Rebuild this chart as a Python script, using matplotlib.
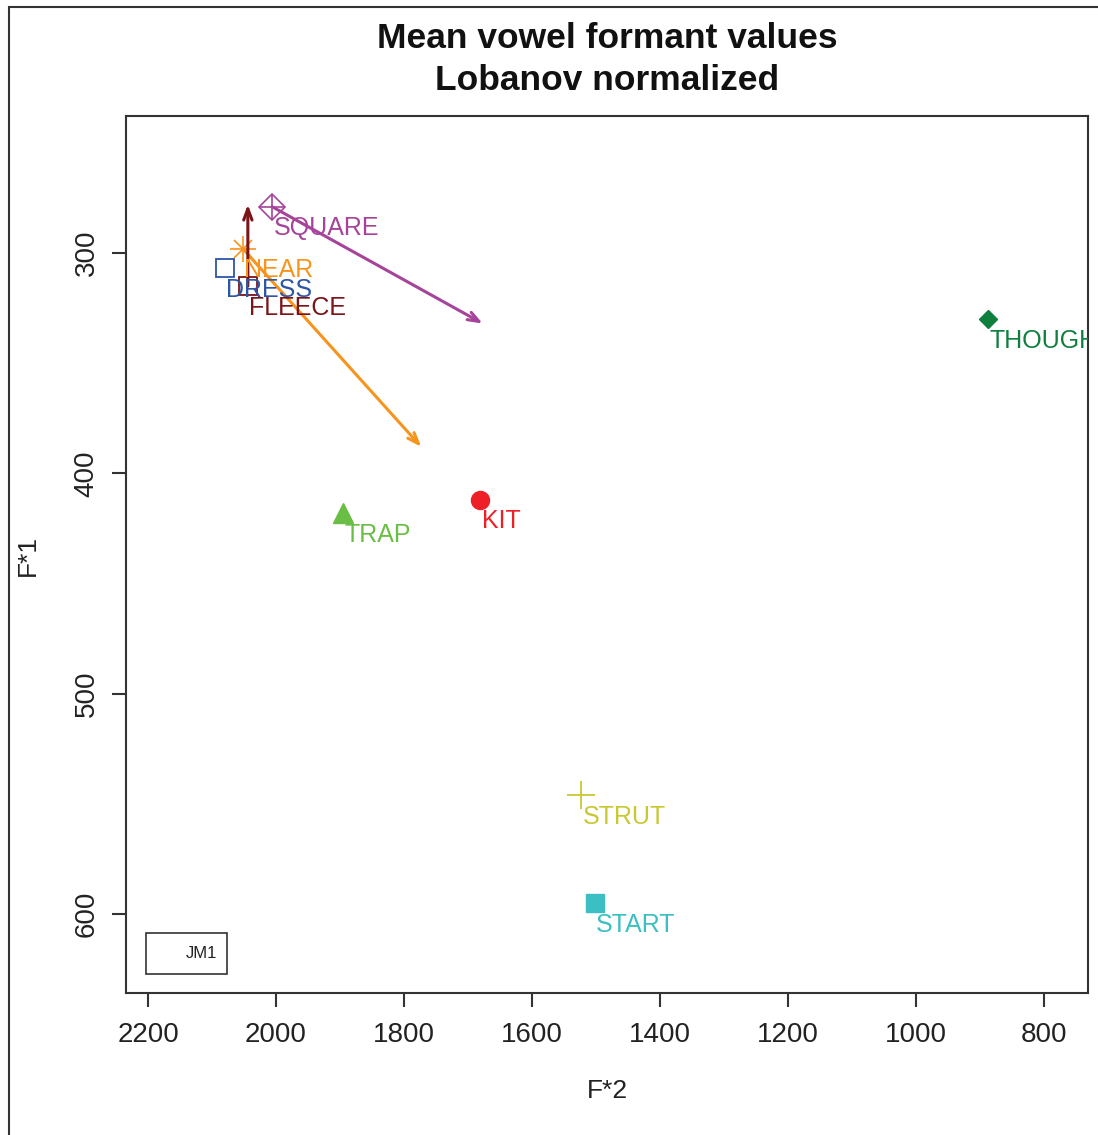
import matplotlib
matplotlib.use("Agg")
import matplotlib.pyplot as plt
from matplotlib.patches import Rectangle

plt.rcParams['font.family'] = ['Liberation Sans', 'DejaVu Sans']

vowels = ["SQUARE", "NEAR", "DRESS", "FLEECE", "THOUGHT", "KIT", "TRAP", "STRUT", "START"]
f2 = [2006, 2052, 2080, 2044, 887, 1681, 1895, 1523, 1502]
f1 = [279, 298, 307, 315, 330, 412, 418, 546, 595]
colors = ["#A5449A", "#F7941D", "#2E56A6", "#7B1416", "#0F7F3F", "#EE2027", "#6BBE45", "#C8C832", "#3BBFC2"]

arrow_vowels = ["SQUARE", "NEAR", "FLEECE"]
arrow_f2_end = [1677, 1773, 2044]
arrow_f1_end = [332, 388, 278]

xticks = [2200, 2000, 1800, 1600, 1400, 1200, 1000, 800]
yticks = [300, 400, 500, 600]

W, H = 1098, 1135
fig = plt.figure(figsize=(W / 100, H / 100), dpi=100)
ax = fig.add_axes([126 / W, 1 - 993 / H, (1088 - 126) / W, (993 - 116) / H])
ax.set_xlim(2234.4, 731.2)
ax.set_ylim(635.9, 237.8)

# figure border (partially visible)
fig.patches.append(Rectangle((9 / W, -0.5), 2, 0.5 + 1 - 7 / H, transform=fig.transFigure,
                             fill=False, edgecolor='#333333', lw=1.5, clip_on=False))

# arrows (drawn first)
for v, xe, ye in zip(arrow_vowels, arrow_f2_end, arrow_f1_end):
    i = vowels.index(v)
    ax.annotate("", xy=(xe, ye), xytext=(f2[i], f1[i]),
                arrowprops=dict(arrowstyle="->,head_length=0.8,head_width=0.3", color=colors[i],
                                lw=2.2, shrinkA=0, shrinkB=0))

ms = 12.5
for v, x, y, c in zip(vowels, f2, f1, colors):
    if v == "SQUARE":
        ax.plot(x, y, marker='D', ms=ms * 1.05, mfc='none', mec=c, mew=1.2, ls='none')
        ax.plot(x, y, marker='+', ms=ms * 1.4, mec=c, mew=1.2, ls='none')
    elif v == "NEAR":
        ax.plot(x, y, marker='+', ms=ms * 1.5, mec=c, mew=1.2, ls='none')
        ax.plot(x, y, marker='x', ms=ms * 1.05, mec=c, mew=1.2, ls='none')
    elif v in ("DRESS", "FLEECE"):
        ax.plot(x, y, marker='s', ms=ms, mfc='none', mec=c, mew=1.3, ls='none')
    elif v == "THOUGHT":
        ax.plot(x, y, marker='D', ms=9, mfc=c, mec=c, ls='none')
    elif v == "KIT":
        ax.plot(x, y, marker='o', ms=13, mfc=c, mec=c, ls='none')
    elif v == "TRAP":
        ax.plot(x, y, marker='^', ms=15, mfc=c, mec=c, ls='none')
    elif v == "STRUT":
        ax.plot(x, y, marker='+', ms=20, mec=c, mew=1.3, ls='none')
    elif v == "START":
        ax.plot(x, y, marker='s', ms=13, mfc=c, mec=c, ls='none')
    t = ax.annotate(v, (x, y), xytext=(1, -7), textcoords='offset points', ha='left', va='top',
                    color=c, fontsize=18, annotation_clip=True)
    t.set_clip_on(True)
    t.set_clip_path(ax.patch)

# legend box
lx0, lx1 = 2234.4 - (146 - 126) / 0.64, 2234.4 - (227 - 126) / 0.64
ly0, ly1 = 237.8 + (933 - 116) / 2.203, 237.8 + (974 - 116) / 2.203
ax.add_patch(Rectangle((lx0, ly0), lx1 - lx0, ly1 - ly0, fill=False, edgecolor='#333333', lw=1.2))
ax.text(lx1 + 10 / 0.64, (ly0 + ly1) / 2, "JM1", ha='right', va='center', fontsize=12, color='#222222')

ax.set_xticks(xticks)
ax.set_yticks(yticks)
ax.set_xticklabels([str(t) for t in xticks])
ax.set_yticklabels([str(t) for t in yticks], rotation=90, va='center')
ax.tick_params(axis='both', direction='out', length=10, width=1.5, colors='#333333',
               labelsize=20, labelcolor='#222222')
ax.tick_params(axis='x', pad=11)
ax.tick_params(axis='y', pad=9)
for s in ax.spines.values():
    s.set_linewidth(1.5)
    s.set_color('#333333')

fig.text(607 / W, 1 - 1091 / H, "F*2", ha='center', va='center', fontsize=19, color='#222222')
fig.text(28 / W, 1 - 555 / H, "F*1", ha='center', va='center', fontsize=19, rotation=90, color='#222222')
fig.text(607 / W, 1 - 38 / H, "Mean vowel formant values", ha='center', va='center',
         fontsize=25.5, fontweight='bold', color='#111111')
fig.text(607 / W, 1 - 80 / H, "Lobanov normalized", ha='center', va='center',
         fontsize=25.5, fontweight='bold', color='#111111')

fig.savefig("out.png", dpi=100)
